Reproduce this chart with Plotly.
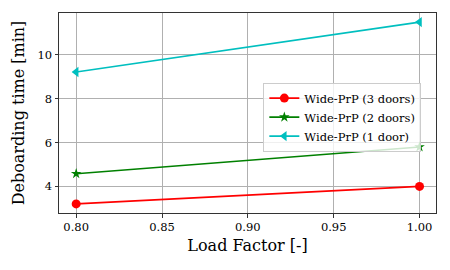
import plotly.graph_objects as go

load_factor = [0.80, 1.00]
door3 = [3.2, 4.0]
door2 = [4.58, 5.8]
door1 = [9.22, 11.5]
names = ["Wide-PrP (3 doors)", "Wide-PrP (2 doors)", "Wide-PrP (1 door)"]

fig = go.Figure()
styles = [("#ff0000", "circle", 9), ("#008000", "star", 8), ("#00bfbf", "triangle-left", 9)]
for ys, name, (c, sym, sz) in zip([door3, door2, door1], names, styles):
    fig.add_trace(go.Scatter(x=load_factor, y=ys, name=name, mode="lines+markers",
                             line=dict(color=c, width=1.6),
                             marker=dict(color=c, symbol=sym, size=sz, line=dict(width=0))))

font = "DejaVu Serif, Liberation Serif"
fig.update_layout(
    width=442, height=262,
    margin=dict(l=51, r=14, t=5, b=57, autoexpand=False),
    paper_bgcolor="white", plot_bgcolor="white",
    font=dict(family=font, size=12, color="black"),
    showlegend=True,
    legend=dict(x=0.542, y=0.652, xanchor="left", yanchor="top",
                bgcolor="rgba(255,255,255,0.8)", bordercolor="#cccccc", borderwidth=1,
                font=dict(family=font, size=11.5), tracegroupgap=0, itemwidth=30),
)
fig.update_xaxes(range=[0.79, 1.0096], tickvals=[0.80, 0.85, 0.90, 0.95, 1.00],
                 ticktext=["0.80", "0.85", "0.90", "0.95", "1.00"], automargin=False,
                 tickfont=dict(family=font, size=11.5),
                 showgrid=True, gridcolor="#b0b0b0", gridwidth=1,
                 showline=True, linecolor="#333333", linewidth=1, mirror=True,
                 ticks="outside", ticklen=3.5, tickcolor="#333333", zeroline=False,
                 title=dict(text="Load Factor [-]", font=dict(family=font, size=16), standoff=6))
fig.update_yaxes(range=[2.785, 11.915], tickvals=[4, 6, 8, 10], automargin=False,
                 tickfont=dict(family=font, size=11.5),
                 showgrid=True, gridcolor="#b0b0b0", gridwidth=1,
                 showline=True, linecolor="#333333", linewidth=1, mirror=True,
                 ticks="outside", ticklen=3.5, tickcolor="#333333", zeroline=False,
                 title=dict(text="Deboarding time [min]", font=dict(family=font, size=16), standoff=8))

fig.write_html("out.html")
